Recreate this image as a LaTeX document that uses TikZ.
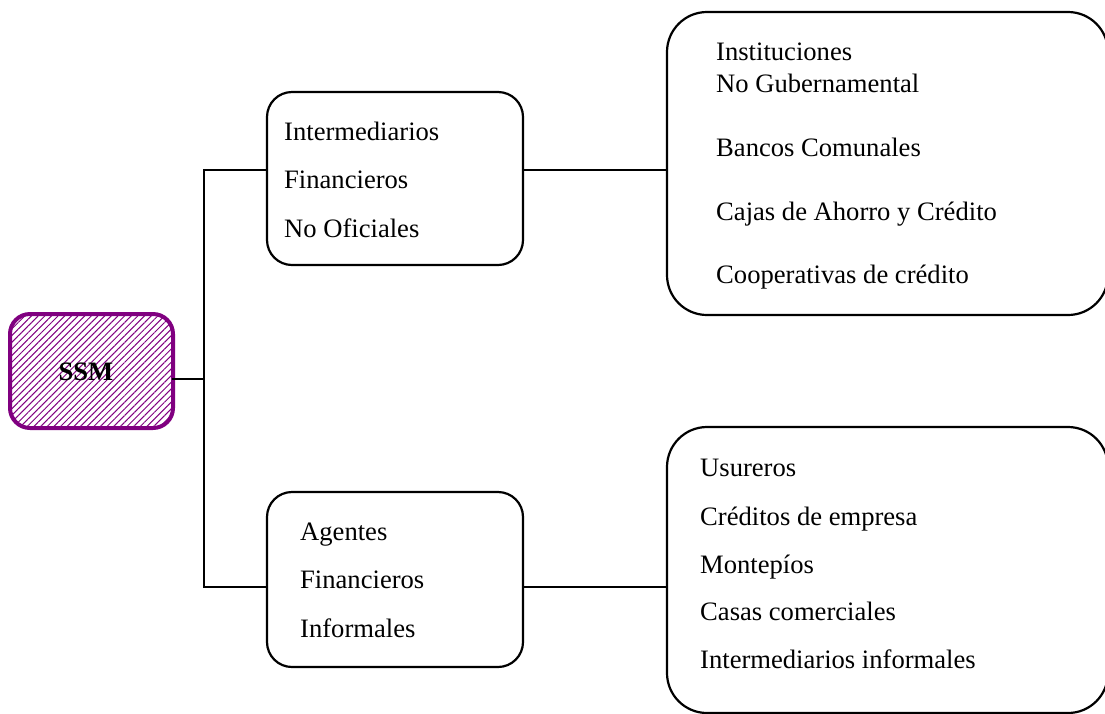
\documentclass[tikz,border=0pt]{standalone}
\usepackage{fontspec}
\setmainfont{Liberation Serif}
\usetikzlibrary{patterns.meta}
\definecolor{ssmpurple}{RGB}{128,0,128}
\begin{document}
\begin{tikzpicture}[x=1pt,y=-1pt,
  box/.style={draw=black,line width=2.2pt,rectangle,inner sep=0pt},
  midbox/.style={box,rounded corners=25pt,minimum width=256pt,minimum height=174pt},
  bigbox/.style={box,rounded corners=40pt,minimum width=441pt},
  txt/.style={anchor=base west,inner sep=0pt,font=\fontsize{26.6}{30}\selectfont},
  conn/.style={line width=2.2pt,line cap=rect}
]
\useasboundingbox (0,0) rectangle (1105,713);
% SSM box
\node[draw=ssmpurple,line width=4pt,rounded corners=20pt,minimum width=163pt,minimum height=114pt,inner sep=0pt,
      pattern={Lines[angle=45,distance=4.7pt,line width=1pt]},pattern color=ssmpurple] (ssm) at (91.5,371) {};
\node[anchor=base,inner sep=0pt,font=\fontsize{26.6}{30}\selectfont\bfseries] (ssmtext) at (86,380) {SSM};
% middle boxes
\node[midbox,minimum height=173pt] (m1) at (395,178.5) {};
\node[midbox,minimum height=175pt] (m2) at (395,579.5) {};
% right boxes
\node[bigbox,minimum height=303pt] (r1) at (887.5,163.5) {};
\node[bigbox,minimum height=286pt] (r2) at (887.5,570) {};
% junction coordinates
\coordinate (j) at (204,379);
\coordinate (t) at (204,170);
\coordinate (b) at (204,587);
% connectors
\draw[conn] (ssm.east|-j) -- (j);
\draw[conn] (m1.west|-t) -- (t) -- (b) -- (m2.west|-b);
\draw[conn] (m1.east|-t) -- (r1.west|-t);
\draw[conn] (m2.east|-b) -- (r2.west|-b);
% texts middle top
\node[txt] (a1) at (284,140) {Intermediarios};
\node[txt] (a2) at (284,188) {Financieros};
\node[txt] (a3) at (284,237) {No Oficiales};
% texts middle bottom
\node[txt] (b1) at (300,540) {Agentes};
\node[txt] (b2) at (300,588) {Financieros};
\node[txt] (b3) at (300,637) {Informales};
% texts right top
\node[txt] (c1) at (716,60) {Instituciones};
\node[txt] (c2) at (716,92) {No Gubernamental};
\node[txt] (c3) at (716,156) {Bancos Comunales};
\node[txt] (c4) at (716,220) {Cajas de Ahorro y Crédito};
\node[txt] (c5) at (716,283) {Cooperativas de crédito};
% texts right bottom
\node[txt] (d1) at (700,476) {Usureros};
\node[txt] (d2) at (700,525) {Créditos de empresa};
\node[txt] (d3) at (700,573) {Montepíos};
\node[txt] (d4) at (700,620) {Casas comerciales};
\node[txt] (d5) at (700,668) {Intermediarios informales};
\end{tikzpicture}
\end{document}
